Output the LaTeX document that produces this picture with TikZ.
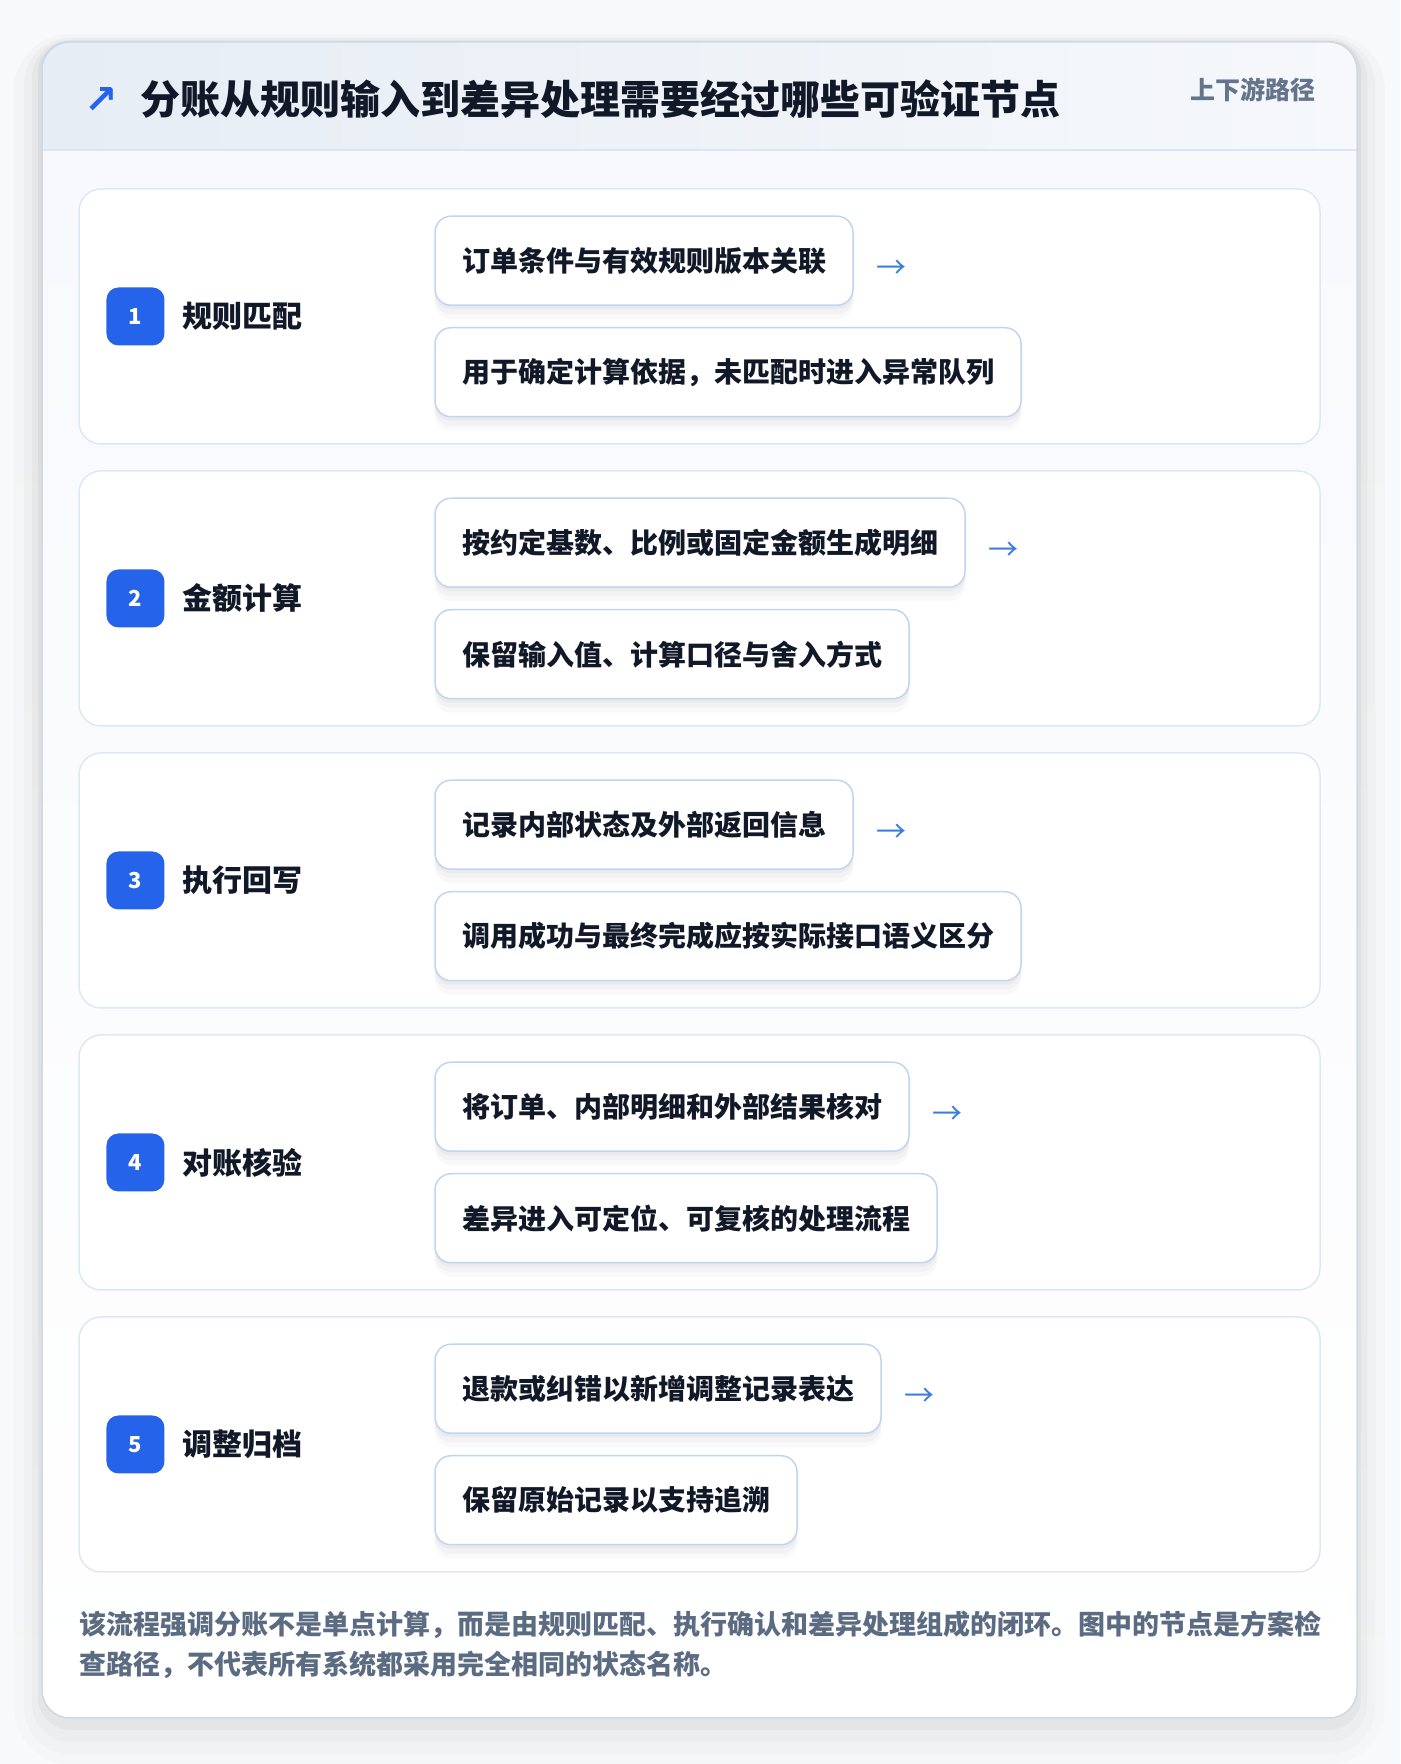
\documentclass[tikz,border=0pt]{standalone}
\usepackage{fontspec}
\setmainfont{Noto Sans CJK SC}
\newfontfamily\symfont{DejaVu Sans}
\usepackage{xcolor}
\usetikzlibrary{positioning,shadows}
\definecolor{pagebg}{HTML}{F8F9FA}
\definecolor{outline}{HTML}{CFD8E3}
\definecolor{headleft}{HTML}{E6EDF5}
\definecolor{headright}{HTML}{F6F8FB}
\definecolor{headline}{HTML}{DBE6F3}
\definecolor{bodytop}{HTML}{F7F9FC}
\definecolor{cardline}{HTML}{DCE8F6}
\definecolor{boxline}{HTML}{BFD5F2}
\definecolor{accent}{HTML}{2563EB}
\definecolor{arrowblue}{HTML}{3B7BE8}
\definecolor{ink}{HTML}{111827}
\definecolor{muted}{HTML}{64748B}
\definecolor{note}{HTML}{5B6B82}
\definecolor{shade}{HTML}{1E293B}

\begin{document}
\begin{tikzpicture}[x=1pt,y=1pt,
card/.style={draw=cardline,fill=white,line width=1.5pt,rounded corners=22pt,
minimum width=1241pt,minimum height=255pt},
badge/.style={fill=accent,rounded corners=12pt,minimum size=58pt,inner sep=0pt,
text=white,font=\fontsize{22}{22}\selectfont\bfseries},
steplabel/.style={inner sep=0pt,text=ink,font=\fontsize{30}{30}\selectfont\bfseries},
detail/.style={draw=boxline,fill=white,line width=1.5pt,rounded corners=16pt,
minimum height=89pt,inner xsep=27pt,inner ysep=0pt,text=ink,
font=\fontsize{28}{28}\selectfont\bfseries,
general shadow={fill=shade,opacity=.025,shadow xshift=0pt,shadow yshift=-14pt},
general shadow={fill=shade,opacity=.03,shadow xshift=0pt,shadow yshift=-9pt},
general shadow={fill=shade,opacity=.035,shadow xshift=0pt,shadow yshift=-4pt}},
flow/.style={inner sep=0pt,text=arrowblue,font=\fontsize{30}{30}\selectfont}]
    % page and outer card
    \fill[pagebg] (0,0) rectangle (1400,1764);
    \useasboundingbox (0,0) rectangle (1400,1764);
    \fill[shade,opacity=.012,rounded corners=56pt] (14,0) rectangle (1385,1730);
    \fill[shade,opacity=.015,rounded corners=46pt] (24,10) rectangle (1375,1726);
    \fill[shade,opacity=.02,rounded corners=38pt] (32,22) rectangle (1367,1724);
    \fill[shade,opacity=.03,rounded corners=32pt] (38,34) rectangle (1361,1723);
    \fill[white,rounded corners=28pt] (42,46) rectangle (1357,1722);
    \begin{scope}
      \clip[rounded corners=28pt] (42,46) rectangle (1357,1722);
      \shade[top color=bodytop,bottom color=white] (42,46) rectangle (1357,1614);
      \shade[left color=headleft,right color=headright] (42,1614) rectangle (1357,1722);
    \end{scope}
    \draw[headline,line width=2pt] (42,1614) -- (1357,1614);
    \draw[outline,line width=1.5pt,rounded corners=28pt] (42,46) rectangle (1357,1722);

    % header
    \node[anchor=west,inner sep=0pt,text=ink,font=\fontsize{40}{40}\selectfont\bfseries]
      (title) at (140,1665) {分账从规则输入到差异处理需要经过哪些可验证节点};
    \node[inner sep=0pt,text=accent,font=\symfont\fontsize{40}{40}\selectfont\bfseries]
      (title icon) [left=22pt of title,yshift=-2pt] {↗};
    \node[anchor=east,inner sep=0pt,text=muted,font=\fontsize{25}{25}\selectfont\bfseries]
      (route) at (1316,1674) {上下游路径};

    % step 1
    \node[card] (step 1) at (699.5,1447.5) {};
    \node[badge] (badge 1) [right=28pt of step 1.west] {1};
    \node[steplabel] (label 1) [right=18pt of badge 1] {规则匹配};
    \node[detail] (box 1a) [above right=10.5pt and 356pt of step 1.west] {订单条件与有效规则版本关联};
    \node[detail] (box 1b) [below right=10.5pt and 356pt of step 1.west] {用于确定计算依据，未匹配时进入异常队列};
    \node[flow] (arrow 1) [right=23pt of box 1a,yshift=-9pt] {→};

    % step 2
    \node[card] (step 2) at (699.5,1165.5) {};
    \node[badge] (badge 2) [right=28pt of step 2.west] {2};
    \node[steplabel] (label 2) [right=18pt of badge 2] {金额计算};
    \node[detail] (box 2a) [above right=10.5pt and 356pt of step 2.west] {按约定基数、比例或固定金额生成明细};
    \node[detail] (box 2b) [below right=10.5pt and 356pt of step 2.west] {保留输入值、计算口径与舍入方式};
    \node[flow] (arrow 2) [right=23pt of box 2a,yshift=-9pt] {→};

    % step 3
    \node[card] (step 3) at (699.5,883.5) {};
    \node[badge] (badge 3) [right=28pt of step 3.west] {3};
    \node[steplabel] (label 3) [right=18pt of badge 3] {执行回写};
    \node[detail] (box 3a) [above right=10.5pt and 356pt of step 3.west] {记录内部状态及外部返回信息};
    \node[detail] (box 3b) [below right=10.5pt and 356pt of step 3.west] {调用成功与最终完成应按实际接口语义区分};
    \node[flow] (arrow 3) [right=23pt of box 3a,yshift=-9pt] {→};

    % step 4
    \node[card] (step 4) at (699.5,601.5) {};
    \node[badge] (badge 4) [right=28pt of step 4.west] {4};
    \node[steplabel] (label 4) [right=18pt of badge 4] {对账核验};
    \node[detail] (box 4a) [above right=10.5pt and 356pt of step 4.west] {将订单、内部明细和外部结果核对};
    \node[detail] (box 4b) [below right=10.5pt and 356pt of step 4.west] {差异进入可定位、可复核的处理流程};
    \node[flow] (arrow 4) [right=23pt of box 4a,yshift=-9pt] {→};

    % step 5
    \node[card] (step 5) at (699.5,319.5) {};
    \node[badge] (badge 5) [right=28pt of step 5.west] {5};
    \node[steplabel] (label 5) [right=18pt of badge 5] {调整归档};
    \node[detail] (box 5a) [above right=10.5pt and 356pt of step 5.west] {退款或纠错以新增调整记录表达};
    \node[detail] (box 5b) [below right=10.5pt and 356pt of step 5.west] {保留原始记录以支持追溯};
    \node[flow] (arrow 5) [right=23pt of box 5a,yshift=-9pt] {→};

    % footer note
    \node[anchor=west,inner sep=0pt,align=left,text=note,
      font=\fontsize{27}{40.5}\selectfont\bfseries] (note) at (79,119)
      {该流程强调分账不是单点计算，而是由规则匹配、执行确认和差异处理组成的闭环。图中的节点是方案检\\
       查路径，不代表所有系统都采用完全相同的状态名称。};
\end{tikzpicture}
\end{document}
